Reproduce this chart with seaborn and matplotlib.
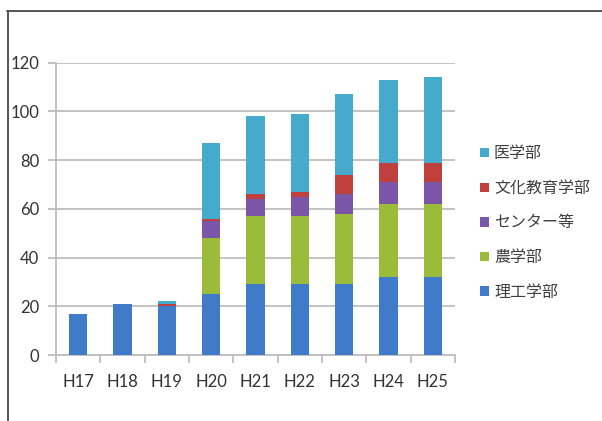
import matplotlib
matplotlib.use("Agg")
import matplotlib.pyplot as plt
from matplotlib.lines import Line2D
from matplotlib.patches import Patch
import numpy as np
import pandas as pd
import seaborn as sns

years = ["H17", "H18", "H19", "H20", "H21", "H22", "H23", "H24", "H25"]
rikou = [17, 21, 20, 25, 29, 29, 29, 32, 32]      # 理工学部
nou = [0, 0, 0, 23, 28, 28, 29, 30, 30]           # 農学部
center = [0, 0, 0, 7, 7, 8, 8, 9, 9]              # センター等
bunka = [0, 0, 1, 1, 2, 2, 8, 8, 8]               # 文化教育学部
igaku = [0, 0, 1, 31, 32, 32, 33, 34, 35]         # 医学部

series_names = ["理工学部", "農学部", "センター等", "文化教育学部", "医学部"]
series_vals = [rikou, nou, center, bunka, igaku]
colors = ["#3F7BC8", "#9BBB3B", "#7A55A8", "#C0403D", "#45AACB"]

sns.set_theme(style="white")
plt.rcParams["font.family"] = ["Lato", "Noto Sans CJK JP", "DejaVu Sans"]

fig = plt.figure(figsize=(6.02, 4.21), dpi=100)
ax = fig.add_axes([56 / 602, 1 - 355 / 421, (455 - 56) / 602, (355 - 62.7) / 421])

df = pd.DataFrame({"year": years})
cum = np.cumsum(np.array(series_vals), axis=0)
# draw the tallest stack first so each lower layer sits on top of it
for i in reversed(range(len(series_names))):
    df["v"] = cum[i]
    sns.barplot(data=df, x="year", y="v", color=colors[i], width=0.41,
                saturation=1, linewidth=0, edgecolor="none", ax=ax, zorder=3)

ax.set_ylim(0, 120)
ax.set_yticks(range(0, 121, 20))
ax.set_xlim(-0.5, len(years) - 0.5)
ax.set_xlabel("")
ax.set_ylabel("")

grid_c = "#BEBEBE"
ax.yaxis.grid(True, color=grid_c, linewidth=1.3, zorder=0)
ax.set_axisbelow(True)
for s in ["top", "right"]:
    ax.spines[s].set_visible(False)
ax.spines["left"].set_color(grid_c)
ax.spines["left"].set_linewidth(1.3)
ax.spines["bottom"].set_color(grid_c)
ax.spines["bottom"].set_linewidth(1.3)

ax.tick_params(axis="y", which="major", length=6, width=1.3, color=grid_c,
               labelsize=12, labelcolor="#333333", pad=6, left=True)
ax.set_xticks(np.arange(len(years)))
ax.set_xticklabels(years)
ax.tick_params(axis="x", which="major", length=0, labelsize=12,
               labelcolor="#333333", pad=14)
ax.set_xticks(np.arange(len(years) + 1) - 0.5, minor=True)
ax.tick_params(axis="x", which="minor", length=6, width=1.3, color=grid_c,
               bottom=True)

handles = [Patch(facecolor=colors[i], edgecolor="none") for i in reversed(range(5))]
labels = list(reversed(series_names))
leg = fig.legend(handles, labels, loc="upper left",
                 bbox_to_anchor=(466 / 602, 1 - 132 / 421),
                 frameon=False, fontsize=11.5, handlelength=0.55,
                 handleheight=0.55, handletextpad=0.3, labelspacing=1.25)
for t in leg.get_texts():
    t.set_color("#404040")

# outer frame lines at top and left
fig.add_artist(Line2D([7 / 602, 1.0], [1 - 11 / 421, 1 - 11 / 421],
                      transform=fig.transFigure, color="#555555", linewidth=1.4))
fig.add_artist(Line2D([8 / 602, 8 / 602], [1 - 11 / 421, 0.0],
                      transform=fig.transFigure, color="#555555", linewidth=1.4))

fig.savefig("out.png", dpi=100)
